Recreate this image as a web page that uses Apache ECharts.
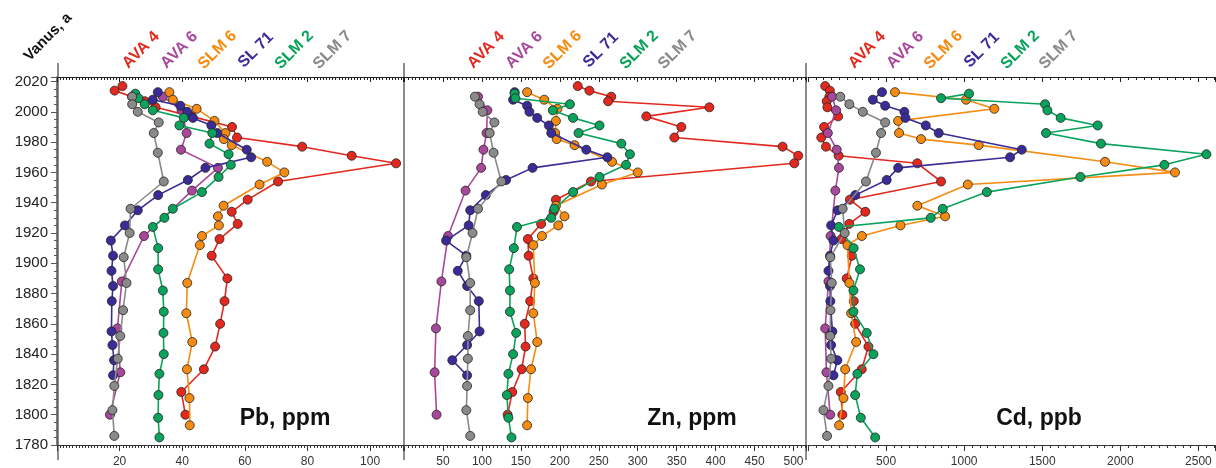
<!DOCTYPE html>
<html>
<head>
<meta charset="utf-8">
<script src="https://cdn.jsdelivr.net/npm/echarts@6/dist/echarts.min.js"></script>
<style>
  html, body { margin: 0; padding: 0; background: #fff; }
  #chart { width: 1216px; height: 468px; }
</style>
</head>
<body>
<div id="chart"></div>
<script>
// cores (legend order) and colours
var cores = ['AVA 4', 'AVA 6', 'SLM 6', 'SL 71', 'SLM 2', 'SLM 7'];
var coreColors = ['#e3291f', '#a8489a', '#f58b10', '#3a2c98', '#0aa35c', '#8a8a8a'];

// sample ages (year) for each core
var yearsAVA4 = [2017, 2014, 2010, 2007, 2003, 1997, 1990, 1983, 1977, 1971, 1966, 1954, 1942, 1934, 1926, 1916, 1905, 1890, 1875, 1860, 1845, 1830, 1815, 1800];
var yearsAVA6 = [2010, 2001, 1986, 1975, 1963, 1948, 1918, 1888, 1857, 1828, 1800];
var yearsSLM6 = [2013, 2008, 2002, 1994, 1986, 1982, 1978, 1967, 1960, 1952, 1938, 1931, 1925, 1918, 1912, 1887, 1867, 1848, 1830, 1811, 1793];
var yearsSL71 = [2013, 2008, 2004, 2000, 1996, 1991, 1986, 1975, 1970, 1963, 1955, 1945, 1935, 1925, 1915, 1905, 1895, 1885, 1875, 1855, 1846, 1836, 1826];
var yearsSLM2 = [2012, 2009, 2005, 2001, 1996, 1991, 1986, 1979, 1972, 1965, 1957, 1947, 1936, 1930, 1924, 1910, 1896, 1882, 1868, 1854, 1840, 1827, 1813, 1798, 1785];
var yearsSLM7 = [2010, 2005, 2000, 1993, 1986, 1973, 1954, 1936, 1920, 1904, 1887, 1869, 1852, 1837, 1819, 1803, 1786];

// Pb, ppm
var pbAVA4 = [20.9, 18.4, 24.0, 28, 31.5, 43, 55.9, 57.5, 78.3, 94.1, 108.3, 70.6, 60.9, 55.8, 57.7, 51.9, 49.4, 54.4, 53.5, 52.1, 50.5, 46.9, 39.7, 41.0];
var pbAVA6 = [33.8, 39.8, 41.4, 39.6, 51.4, 43.1, 27.8, 20.7, 19.3, 20.2, 16.9];
var pbSLM6 = [35.9, 37, 44.6, 50.3, 53.8, 53.3, 55.8, 67.1, 72.6, 64.7, 53.2, 51.4, 51.7, 46.3, 45.6, 41.6, 41.3, 43.2, 41.5, 42.3, 42.4];
var pbSL71 = [32.2, 30.6, 39.4, 41.6, 43.4, 49.3, 51.2, 60.6, 62.0, 47.4, 41.8, 32.3, 25.8, 21.7, 17.2, 17.9, 17.4, 17.9, 17.5, 17.4, 17.7, 18.2, 17.9];
var pbSLM2 = [25.0, 26, 28, 30.6, 40.5, 39.1, 49.6, 48.7, 54.8, 55.5, 51.6, 46.3, 37.0, 34.3, 30.6, 32.3, 32.3, 33.8, 34.1, 34.0, 34.1, 32.7, 32.4, 32.3, 32.7];
var pbSLM7 = [24, 24, 25.8, 32.5, 30.9, 32.2, 34.1, 23.5, 23.2, 21.3, 22.2, 21.1, 20.2, 19.4, 18.3, 17.7, 18.3];

// Zn, ppm
var znAVA4 = [223, 238, 266, 262, 392, 311, 356, 347, 486, 506, 501, 240, 195, 192, 176, 159, 160, 166, 162, 155, 156, 151, 139, 133];
var znAVA6 = [95, 107, 106, 102, 99, 79, 56.5, 48, 41, 39.3, 41.8];
var znSLM6 = [158, 180, 197, 195, 194, 196, 219, 267, 300, 254, 195, 206, 198, 177, 166, 168, 166, 171, 163, 159, 158];
var znSL71 = [142, 140, 158, 161, 171, 186, 189, 234, 261, 165, 131, 105, 85, 83, 54, 80, 69, 81, 96, 97, 81, 62, 81];
var znSLM2 = [142, 143, 213, 191, 217, 251, 224, 279, 290, 285, 251, 217, 193, 189, 145, 141, 135, 136, 136, 144, 140, 134, 132, 134, 138];
var znSLM7 = [91, 97, 101, 116, 110, 115, 125, 95, 88, 80, 85, 85, 82, 82, 81, 80, 85];

// Cd, ppb
var cdAVA4 = [110, 140, 137, 120, 124, 193, 103, 85, 115, 196, 700, 852, 268, 367, 264, 215, 281, 248, 293, 302, 387, 344, 210, 220];
var cdAVA6 = [155, 180, 127, 184, 198, 175, 145, 131, 110, 118, 142];
var cdSLM6 = [557, 1012, 1193, 577, 583, 724, 1093, 1902, 2350, 1023, 700, 878, 592, 345, 253, 265, 276, 308, 238, 227, 199];
var cdSL71 = [474, 415, 494, 617, 624, 754, 837, 1369, 1294, 577, 504, 303, 190, 148, 163, 141, 131, 141, 143, 156, 148, 188, 163];
var cdSLM2 = [1031, 852, 1518, 1533, 1618, 1855, 1524, 1876, 2551, 2282, 1744, 1145, 863, 786, 198, 292, 333, 291, 291, 376, 419, 316, 302, 338, 430];
var cdSLM7 = [207, 265, 351, 494, 468, 435, 371, 222, 235, 143, 152, 144, 142, 148, 131, 99, 122];

var coreYears = [yearsAVA4, yearsAVA6, yearsSLM6, yearsSL71, yearsSLM2, yearsSLM7];
var panelValues = [
  [pbAVA4, pbAVA6, pbSLM6, pbSL71, pbSLM2, pbSLM7],
  [znAVA4, znAVA6, znSLM6, znSL71, znSLM2, znSLM7],
  [cdAVA4, cdAVA6, cdSLM6, cdSL71, cdSLM2, cdSLM7]
];
var panelTitles = ['Pb, ppm', 'Zn, ppm', 'Cd, ppb'];
var xMax = [110.5, 516, 2606];
var xInterval = [20, 50, 500];
var xMinorSplit = [20, 10, 10];

var FONT = "'Liberation Sans', Arial, Helvetica, sans-serif";

var grids = [
  { left: 57, top: 77, width: 346, height: 376 },
  { left: 404, top: 77, width: 402, height: 376 },
  { left: 808, top: 77, width: 407, height: 376 }
];

// plain numbers, no thousands separator
function plain(v) { return String(v); }

var xAxes = [];
var yAxes = [];
var series = [];
var graphics = [];

for (var p = 0; p < 3; p++) {
  // bottom axis with labels
  xAxes.push({
    gridIndex: p, type: 'value', position: 'bottom',
    min: 0, max: xMax[p], interval: xInterval[p],
    splitLine: { show: false },
    axisLine: { show: true, lineStyle: { color: '#333', width: 1 } },
    axisTick: { show: true, length: 6, lineStyle: { color: '#333' } },
    minorTick: { show: true, splitNumber: xMinorSplit[p], length: 3, lineStyle: { color: '#333' } },
    axisLabel: { fontSize: 12, color: '#333', fontFamily: FONT, margin: 11, showMinLabel: false, showMaxLabel: false, formatter: plain }
  });
  // top axis, ticks only
  xAxes.push({
    gridIndex: p, type: 'value', position: 'top',
    min: 0, max: xMax[p], interval: xInterval[p],
    splitLine: { show: false },
    axisLine: { show: true, lineStyle: { color: '#222', width: 1 } },
    axisTick: { show: true, inside: true, length: 5, lineStyle: { color: '#222' } },
    minorTick: { show: true, splitNumber: xMinorSplit[p], length: 3, lineStyle: { color: '#222' } },
    axisLabel: { show: false }
  });
  yAxes.push({
    gridIndex: p, type: 'value', position: 'left',
    min: 1780, max: 2023, interval: 20,
    show: p === 0, offset: 4,
    splitLine: { show: false },
    axisLine: { show: true, lineStyle: { color: '#555', width: 1.5 } },
    axisTick: { show: true, length: 6, lineStyle: { color: '#555' } },
    minorTick: { show: true, splitNumber: 4, length: 3, lineStyle: { color: '#555' } },
    axisLabel: { fontSize: 15, color: '#222', fontFamily: FONT, margin: 5, showMaxLabel: false, formatter: plain }
  });

  for (var c = 0; c < cores.length; c++) {
    var vals = panelValues[p][c];
    series.push({
      name: cores[c],
      type: 'line',
      xAxisIndex: p * 2,
      yAxisIndex: p,
      data: coreYears[c].map(function (yr, i) { return [this[i], yr]; }, vals),
      symbol: 'circle',
      symbolSize: 9,
      showAllSymbol: true,
      lineStyle: { color: coreColors[c], width: 1.6 },
      itemStyle: { color: coreColors[c], borderColor: '#222', borderWidth: 0.8 },
      z: 2 + c
    });
  }

  // rotated core labels above each panel
  var baseX = [141, 486, 867][p];
  for (var k = 0; k < cores.length; k++) {
    graphics.push({
      type: 'text', x: baseX + k * 38.3, y: 50, rotation: Math.PI / 4,
      style: {
        text: cores[k], fill: coreColors[k], font: 'bold 16px ' + FONT,
        textAlign: 'center', textVerticalAlign: 'middle'
      }
    });
  }

  // element name inside the panel
  graphics.push({
    type: 'text', x: [285, 692, 1039][p], y: 419,
    style: {
      text: panelTitles[p], fill: '#111', font: 'bold 23px ' + FONT,
      textAlign: 'center', textVerticalAlign: 'middle'
    }
  });
}

// panel frame lines
[58, 404, 806].forEach(function (x) {
  graphics.push({
    type: 'line', shape: { x1: x, y1: 63, x2: x, y2: 460 },
    style: { stroke: '#8c8c8c', lineWidth: 2 }, z: 0
  });
});

graphics.push({
  type: 'text', x: 48, y: 37, rotation: Math.PI / 4,
  style: {
    text: 'Vanus, a', fill: '#111', font: 'bold 15px ' + FONT,
    textAlign: 'center', textVerticalAlign: 'middle'
  }
});

var chart = echarts.init(document.getElementById('chart'));
chart.setOption({
  animation: false,
  backgroundColor: '#fff',
  grid: grids,
  xAxis: xAxes,
  yAxis: yAxes,
  series: series,
  graphic: graphics
});
</script>
</body>
</html>
